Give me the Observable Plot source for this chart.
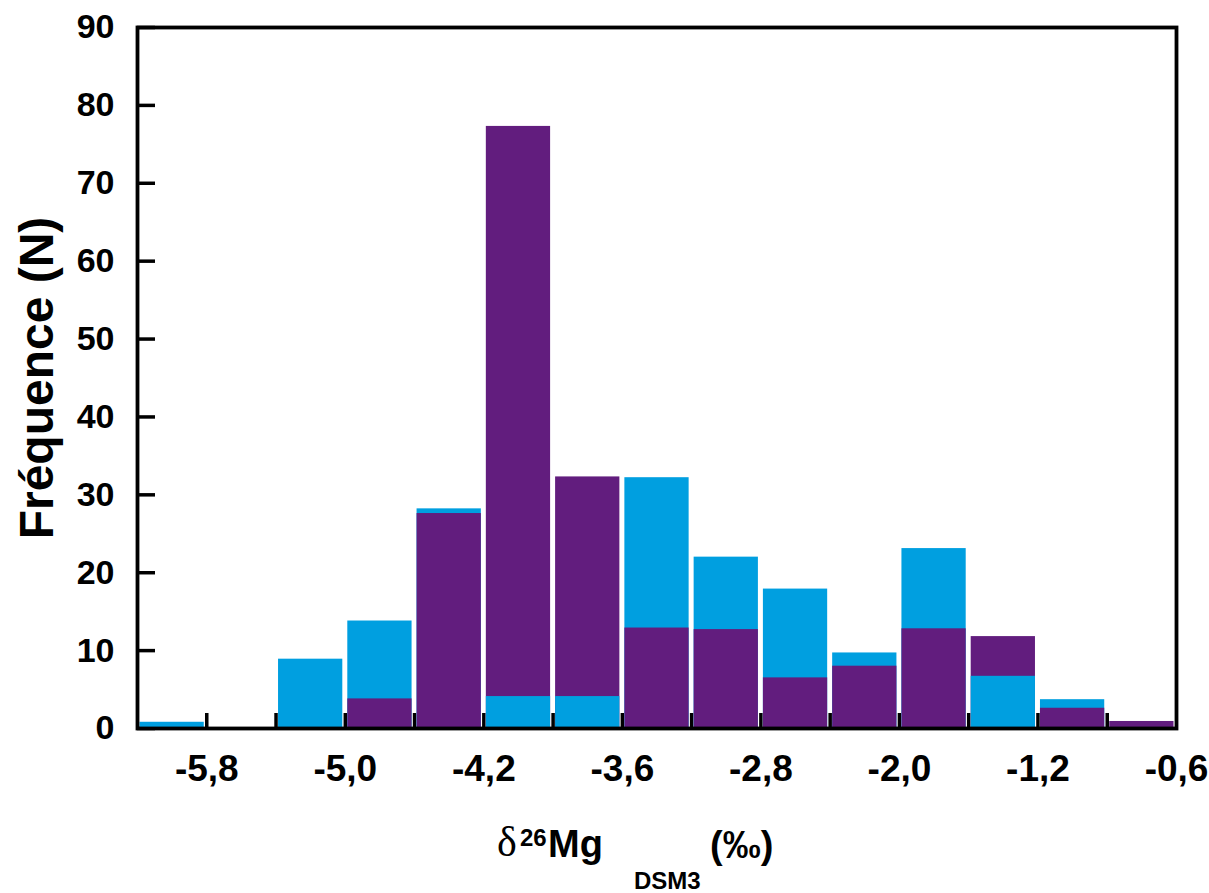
<!DOCTYPE html>
<html><head><meta charset="utf-8">
<script src="https://cdn.jsdelivr.net/npm/d3@7"></script>
<script src="https://cdn.jsdelivr.net/npm/@observablehq/plot@0.6"></script>
<style>
body{margin:0;background:#fff;}
#wrap{position:relative;width:1209px;height:893px;overflow:hidden;background:#fff;}
.t{position:absolute;line-height:1;white-space:nowrap;color:#000;font-family:"Liberation Sans",Arial,sans-serif;font-weight:bold;}
</style></head><body><div id="wrap"></div>
<script>
// bin index (15 bins of the histogram)
const binIndex = [0,1,2,3,4,5,6,7,8,9,10,11,12,13,14];
const seriesNames = ["Série A", "Série B"];
const seriesColors = ["#009fe0", "#621d7e"];
const seriesAValues = [0.8, 0, 8.9, 13.8, 28.2, 4.1, 4.1, 32.2, 22.0, 17.9, 9.7, 23.1, 6.7, 3.7, 0];
const seriesBValues = [0,   0, 0,   3.8,  27.6, 77.3, 32.3, 12.9, 12.7, 6.5, 8.0, 12.8, 11.8, 2.6, 0.9];
const xTickEdges  = [1, 3, 5, 7, 9, 11, 13, 15];
const xTickLabels = ["-5,8", "-5,0", "-4,2", "-3,6", "-2,8", "-2,0", "-1,2", "-0,6"];
const xMinorEdges = [1,2,3,4,5,6,7,8,9,10,11,12,13,14];
const yTicks = [0,10,20,30,40,50,60,70,80,90];
const yLabel = "Fréquence (N)";

// rows: within each bin, the taller bar is drawn first so the shorter one stays visible
const rows = [];
binIndex.forEach((b, i) => {
  const pair = [
    {bin: b, series: seriesNames[0], value: seriesAValues[i]},
    {bin: b, series: seriesNames[1], value: seriesBValues[i]}
  ].filter(d => d.value > 0).sort((a, c) => c.value - a.value);
  rows.push(...pair);
});

const chart = Plot.plot({
  width: 1209,
  height: 800,
  marginLeft: 137,
  marginRight: 33,
  marginTop: 27,
  marginBottom: 72,
  style: {fontFamily: "'Liberation Sans', Arial, sans-serif", fontWeight: "bold", color: "black", background: "white"},
  x: {domain: [0, 15]},
  y: {domain: [0, 90]},
  color: {domain: seriesNames, range: seriesColors},
  marks: [
    Plot.axisY(yTicks, {tickSize: -18, tickPadding: 41, strokeWidth: 3.5, fontSize: 34, fontWeight: "bold", label: null}),
    Plot.axisX(xMinorEdges, {tickSize: -15, strokeWidth: 3.5, tickFormat: () => "", label: null}),
    Plot.axisX(xTickEdges, {tickSize: 0, tickPadding: 26, fontSize: 37, fontWeight: "bold", label: null,
      tickFormat: d => xTickLabels[xTickEdges.indexOf(d)]}),
    Plot.rect(rows, {x1: "bin", x2: d => d.bin + 1, y1: 0, y2: "value", fill: "series",
      insetLeft: 2.5, insetRight: 2.5, clip: true}),
    Plot.frame({stroke: "black", strokeWidth: 3.8}),
    Plot.text([yLabel], {frameAnchor: "left", dx: -100, rotate: -90, fontSize: 48, fontWeight: "bold",
      textAnchor: "middle", lineAnchor: "middle", fill: "black"})
  ]
});
const wrap = document.getElementById("wrap");
wrap.appendChild(chart);

// x-axis title with superscript and subscript
const parts = [
  {text: "δ",    left: 497, base: 857, size: 42, family: "'Liberation Serif', serif", weight: "normal"},
  {text: "26",   left: 520, base: 846, size: 24},
  {text: "Mg",   left: 548, base: 857, size: 38},
  {text: "DSM3", left: 634, base: 889, size: 24},
  {text: "(‰)",  left: 710, base: 858, size: 38}
];
parts.forEach(p => {
  const s = document.createElement("span");
  s.className = "t";
  s.textContent = p.text;
  s.style.fontSize = p.size + "px";
  if (p.family) s.style.fontFamily = p.family;
  if (p.weight) s.style.fontWeight = p.weight;
  s.style.left = p.left + "px";
  s.style.top = (p.base - 0.8465 * p.size) + "px";
  wrap.appendChild(s);
});
</script></body></html>
